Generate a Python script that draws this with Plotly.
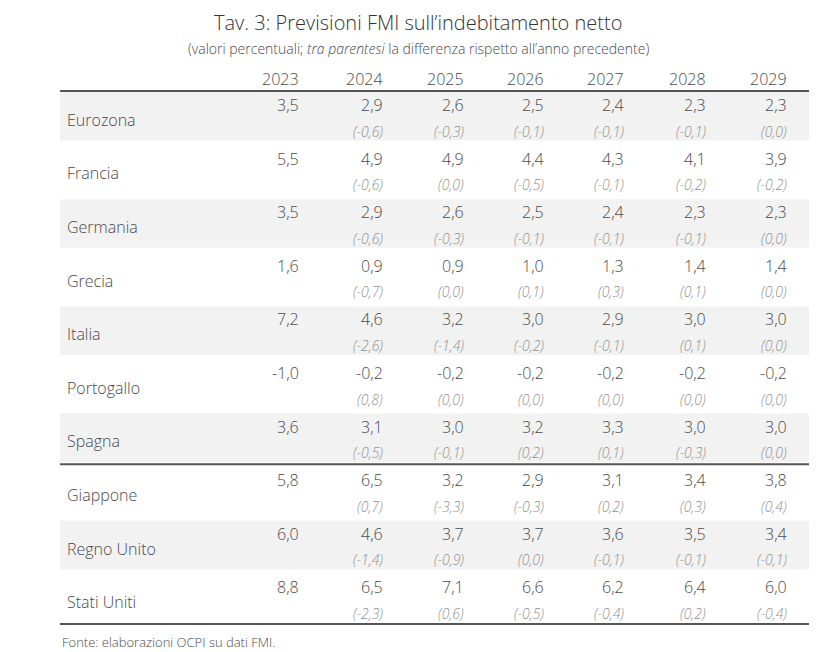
import plotly.graph_objects as go

years = ["2023", "2024", "2025", "2026", "2027", "2028", "2029"]
countries = ["Eurozona", "Francia", "Germania", "Grecia", "Italia", "Portogallo",
             "Spagna", "Giappone", "Regno Unito", "Stati Uniti"]
values = [
    ["3,5", "2,9", "2,6", "2,5", "2,4", "2,3", "2,3"],
    ["5,5", "4,9", "4,9", "4,4", "4,3", "4,1", "3,9"],
    ["3,5", "2,9", "2,6", "2,5", "2,4", "2,3", "2,3"],
    ["1,6", "0,9", "0,9", "1,0", "1,3", "1,4", "1,4"],
    ["7,2", "4,6", "3,2", "3,0", "2,9", "3,0", "3,0"],
    ["-1,0", "-0,2", "-0,2", "-0,2", "-0,2", "-0,2", "-0,2"],
    ["3,6", "3,1", "3,0", "3,2", "3,3", "3,0", "3,0"],
    ["5,8", "6,5", "3,2", "2,9", "3,1", "3,4", "3,8"],
    ["6,0", "4,6", "3,7", "3,7", "3,6", "3,5", "3,4"],
    ["8,8", "6,5", "7,1", "6,6", "6,2", "6,4", "6,0"],
]
deltas = [
    ["-0,6", "-0,3", "-0,1", "-0,1", "-0,1", "0,0"],
    ["-0,6", "0,0", "-0,5", "-0,1", "-0,2", "-0,2"],
    ["-0,6", "-0,3", "-0,1", "-0,1", "-0,1", "0,0"],
    ["-0,7", "0,0", "0,1", "0,3", "0,1", "0,0"],
    ["-2,6", "-1,4", "-0,2", "-0,1", "0,1", "0,0"],
    ["0,8", "0,0", "0,0", "0,0", "0,0", "0,0"],
    ["-0,5", "-0,1", "0,2", "0,1", "-0,3", "0,0"],
    ["0,7", "-3,3", "-0,3", "0,2", "0,3", "0,4"],
    ["-1,4", "-0,9", "0,0", "-0,1", "-0,1", "-0,1"],
    ["-2,3", "0,6", "-0,5", "-0,4", "0,2", "-0,4"],
]

FONT = "Open Sans"
DARK = "#4a4a4a"
GREY = "#909090"
col_right = [293, 377, 458, 538, 618, 700, 781]
x0, x1 = 52, 801
top = 83
rh = 53.6

fig = go.Figure()
shapes = []
ann = []

for i, c in enumerate(countries):
    y0 = top + i * rh
    if i % 2 == 0:
        shapes.append(dict(type="rect", x0=x0, x1=x1, y0=y0 + 1, y1=y0 + rh - 4,
                           fillcolor="#f2f2f2", line_width=0, layer="below"))
    ann.append(dict(x=x0 + 5, y=y0 + rh / 2 + 2, text=c, xanchor="left", yanchor="middle",
                    font=dict(size=16, color=DARK, family=FONT, weight=300)))
    for j, v in enumerate(values[i]):
        ann.append(dict(x=col_right[j], y=y0 + 14, text=v, xanchor="right", yanchor="middle",
                        font=dict(size=16, color=DARK, family=FONT, weight=300)))
    for j, d in enumerate(deltas[i]):
        ann.append(dict(x=col_right[j + 1], y=y0 + 40, text="<i>(" + d + ")</i>",
                        xanchor="right", yanchor="middle",
                        font=dict(size=14, color=GREY, family=FONT, weight=300)))

for j, yr in enumerate(years):
    ann.append(dict(x=col_right[j], y=71, text=yr, xanchor="right", yanchor="middle",
                    font=dict(size=16, color=DARK, family=FONT, weight=300)))

for yy in [top, top + 7 * rh - 2, top + 10 * rh - 3]:
    shapes.append(dict(type="line", x0=x0, x1=x1, y0=yy, y1=yy,
                       line=dict(color="#555555", width=2)))

ann.append(dict(x=410, y=14, text="Tav. 3: Previsioni FMI sull’indebitamento netto",
                xanchor="center", yanchor="middle",
                font=dict(size=20, color="#333333", family=FONT, weight=300)))
ann.append(dict(x=410, y=40,
                text="(valori percentuali; <i>tra parentesi</i> la differenza rispetto all’anno precedente)",
                xanchor="center", yanchor="middle",
                font=dict(size=14, color=DARK, family=FONT, weight=300)))
ann.append(dict(x=52, y=634, text="Fonte: elaborazioni OCPI su dati FMI.", xanchor="left",
                yanchor="middle", font=dict(size=13, color=DARK, family=FONT, weight=300)))

for a in ann:
    a.update(xref="x", yref="y", showarrow=False)

fig.update_layout(
    width=818, height=652, margin=dict(l=0, r=0, t=0, b=0),
    plot_bgcolor="white", paper_bgcolor="white",
    xaxis=dict(range=[0, 818], visible=False, fixedrange=True),
    yaxis=dict(range=[652, 0], visible=False, fixedrange=True),
    shapes=shapes, annotations=ann, showlegend=False,
)
fig.write_html("out.html")
